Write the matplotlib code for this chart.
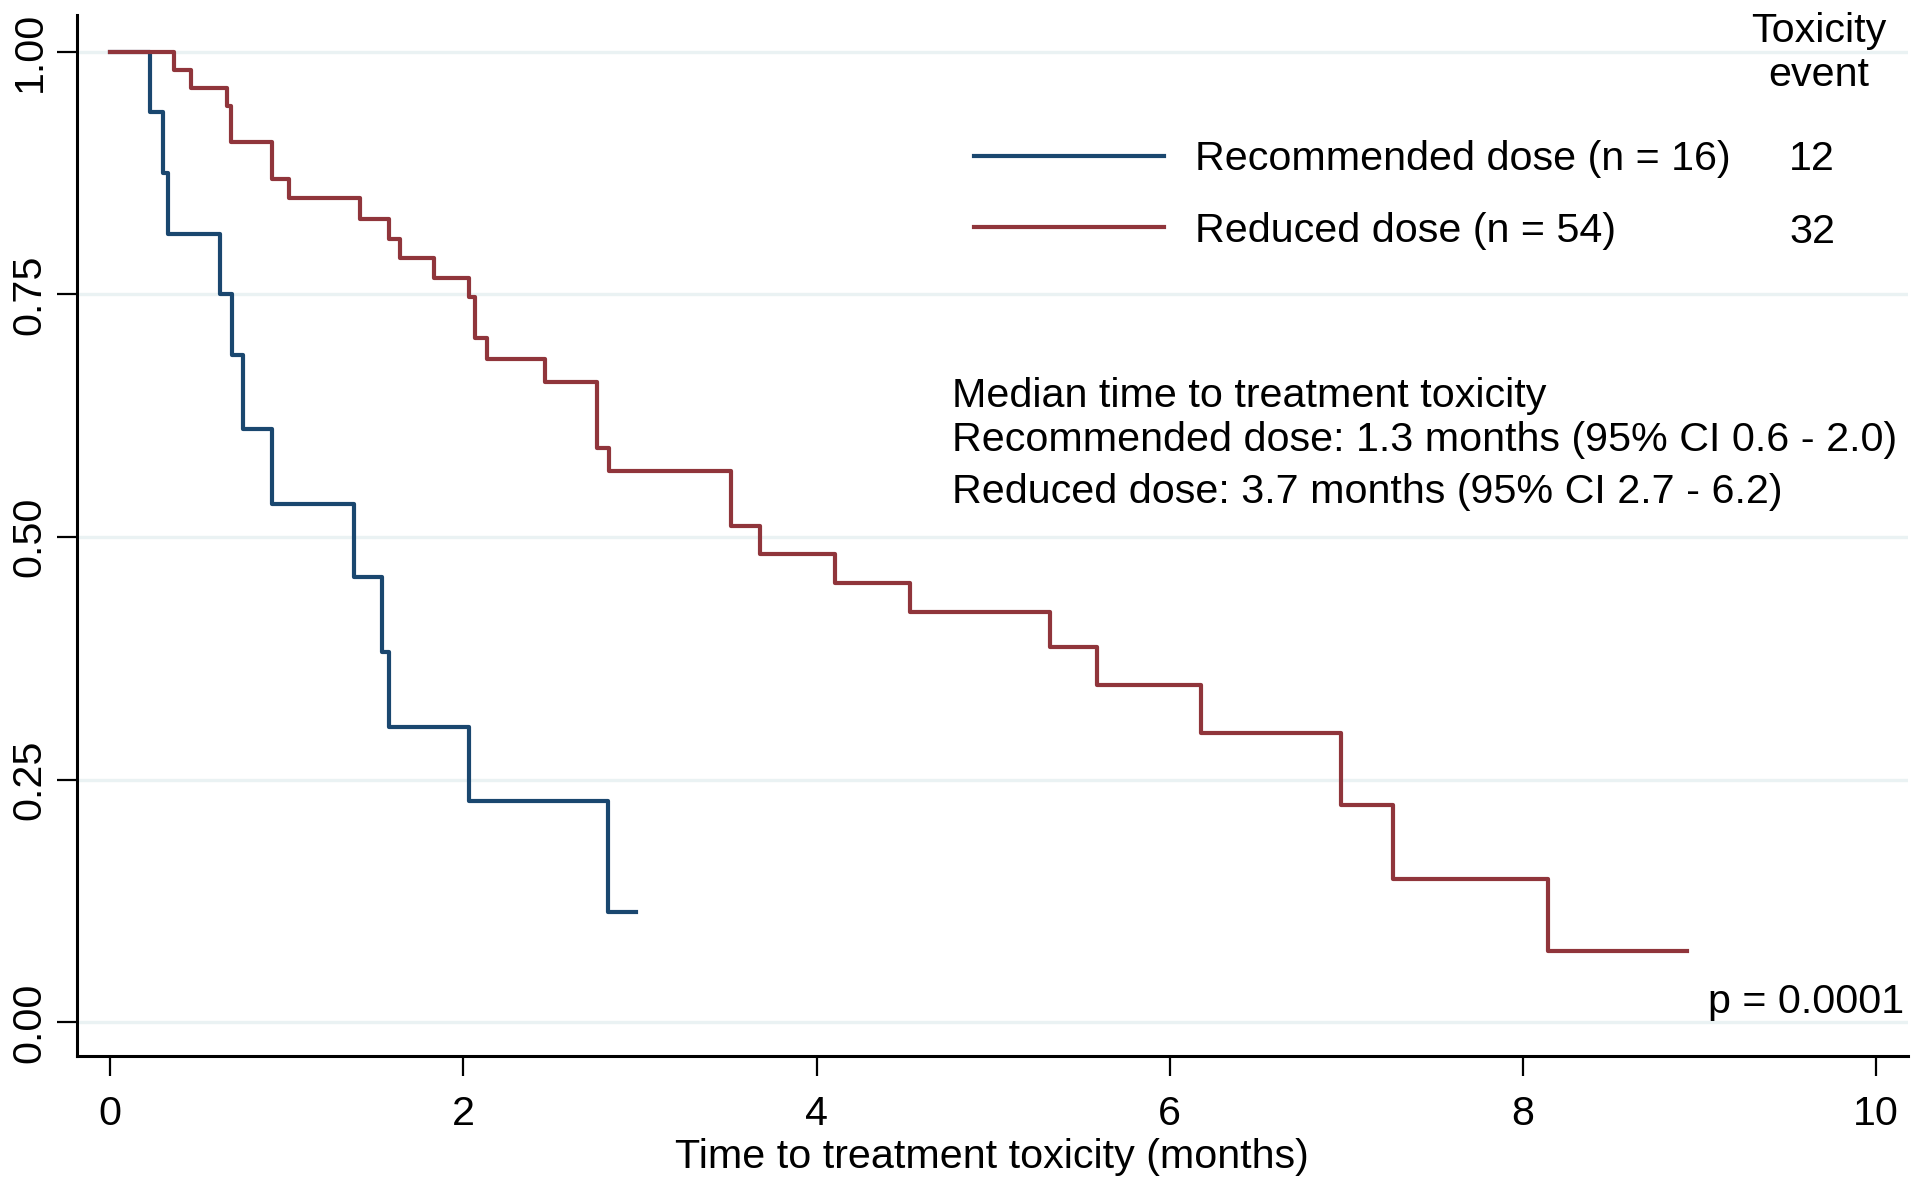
import matplotlib
matplotlib.use("Agg")
import matplotlib.pyplot as plt

plt.rcParams['font.family'] = ['Liberation Sans', 'DejaVu Sans']

# ---- data ----
times_rec = [0, 0.226, 0.297, 0.325, 0.623, 0.689, 0.752, 0.919, 1.38, 1.54, 1.58, 2.03, 2.82, 2.98]
surv_rec = [1.0, 0.9375, 0.875, 0.8125, 0.75, 0.6875, 0.611, 0.534, 0.459, 0.382, 0.304, 0.228, 0.114, 0.114]

times_red = [0, 0.36, 0.456, 0.659, 0.684, 0.919, 1.015, 1.412, 1.579, 1.639, 1.836, 2.034, 2.064,
             2.135, 2.464, 2.757, 2.823, 3.514, 3.679, 4.106, 4.53, 5.323, 5.587, 6.178, 6.971,
             7.262, 8.143, 8.93]
surv_red = [1.0, 0.981, 0.963, 0.944, 0.907, 0.869, 0.849, 0.828, 0.807, 0.787, 0.767, 0.747, 0.705,
            0.683, 0.660, 0.592, 0.568, 0.511, 0.483, 0.453, 0.423, 0.387, 0.348, 0.298, 0.224,
            0.148, 0.074, 0.074]

group_labels = ["Recommended dose (n = 16)", "Reduced dose (n = 54)"]
event_counts = ["12", "32"]
x_ticks = [0, 2, 4, 6, 8, 10]
y_ticks = [0.0, 0.25, 0.50, 0.75, 1.00]
y_ticklabels = ["0.00", "0.25", "0.50", "0.75", "1.00"]
median_lines = ["Median time to treatment toxicity",
                "Recommended dose: 1.3 months (95% CI 0.6 - 2.0)",
                "Reduced dose: 3.7 months (95% CI 2.7 - 6.2)"]
p_text = "p = 0.0001"

col_rec = "#1a476f"
col_red = "#90353b"
grid_col = "#eaf2f3"
FS = 29.7

W, H = 1920, 1187
fig = plt.figure(figsize=(W / 100, H / 100), dpi=100)
ax = fig.add_axes([77 / W, 1 - 1055.5 / H, (1908 - 77) / W, (1055.5 - 14.7) / H])

ax.set_xlim(-0.188, 10.18)
ax.set_ylim(-0.034, 1.038)

for yv in y_ticks:
    ax.axhline(yv, color=grid_col, lw=2.4, zorder=0)

l1, = ax.step(times_rec, surv_rec, where='post', color=col_rec, lw=3.0, zorder=3)
l2, = ax.step(times_red, surv_red, where='post', color=col_red, lw=3.0, zorder=3)

for s in ['top', 'right']:
    ax.spines[s].set_visible(False)
for s in ['left', 'bottom']:
    ax.spines[s].set_linewidth(2.2)
    ax.spines[s].set_color('black')

ax.set_xticks(x_ticks)
ax.set_xticklabels([str(v) for v in x_ticks], fontsize=FS)
ax.set_yticks(y_ticks)
ax.set_yticklabels(y_ticklabels, fontsize=FS, rotation=90, va='center')
ax.tick_params(axis='both', direction='out', length=14.5, width=1.6)
ax.tick_params(axis='x', pad=14)
ax.tick_params(axis='y', pad=6)

fig.text(992 / W, 1 - 1157 / H, "Time to treatment toxicity (months)", fontsize=FS,
         ha='center', va='center')

leg = ax.legend([l1, l2], group_labels, loc='center left',
                bbox_to_anchor=(974 / W, 1 - 195 / H), bbox_transform=fig.transFigure,
                frameon=False, fontsize=FS, handlelength=4.6, handletextpad=0.75,
                labelspacing=0.82, borderpad=0, borderaxespad=0)

fig.text(1819 / W, 1 - 53 / H, "Toxicity\nevent", fontsize=FS, ha='center', va='center',
         linespacing=1.17)
fig.text(1812 / W, 1 - 159 / H, event_counts[0], fontsize=FS, ha='center', va='center')
fig.text(1812 / W, 1 - 232 / H, event_counts[1], fontsize=FS, ha='center', va='center')

for txt, yy in zip(median_lines, [396, 440, 492]):
    fig.text(952 / W, 1 - yy / H, txt, fontsize=FS, ha='left', va='center')

fig.text(1904 / W, 1 - 1002 / H, p_text, fontsize=FS, ha='right', va='center')

fig.savefig("out.png", dpi=100, facecolor='white')
